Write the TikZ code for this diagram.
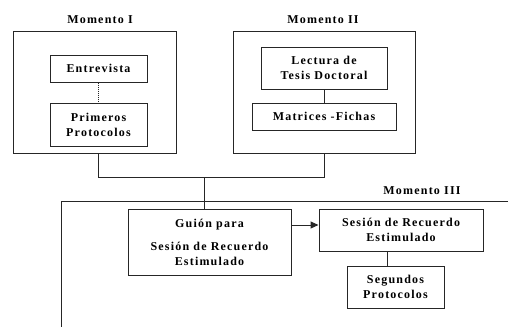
\documentclass[tikz,border=0pt]{standalone}
\usepackage{fontspec}
\setmainfont{Liberation Serif}
\newfontfamily\boxfont[LetterSpace=10]{Liberation Serif}
\usetikzlibrary{arrows.meta, positioning}
\tikzstyle{block} = [draw=black!85, line width=1pt, rectangle, align=center, font=\boxfont\fontsize{12}{15}\selectfont\bfseries, inner sep=0pt]
\tikzstyle{frame} = [draw=black!85, line width=1pt, rectangle, inner sep=0pt]
\tikzstyle{title} = [font=\boxfont\fontsize{12}{15}\selectfont\bfseries, inner sep=0pt]
\tikzstyle{link} = [draw=black!85, line width=1pt]
\tikzstyle{path} = [link, -{Triangle[length=8pt, width=7pt]}]

\begin{document}
\begin{tikzpicture}[x=1pt, y=-1pt]
    \useasboundingbox (0,0) rectangle (509,327);

    % Moments.
    \node (mom1) [frame, minimum width=163pt, minimum height=122pt] at (94.5,92) {};
    \node (mom2) [frame, minimum width=182pt, minimum height=122pt] at (324,92) {};
    \node (title1) [title] at (100,20) {Momento I};
    \node (title2) [title] at (323,20) {Momento II};
    \node (title3) [title] at (422,191) {Momento III};

    % Boxes.
    \node (entrevista) [block, minimum width=97pt, minimum height=27pt] at (98.5,68.5) {Entrevista};
    \node (primeros) [block, minimum width=97pt, minimum height=43pt] at (98.5,124.5) {Primeros\\Protocolos};
    \node (lectura) [block, minimum width=126pt, minimum height=42pt] at (324,68) {Lectura de\\Tesis Doctoral};
    \node (matrices) [block, minimum width=144pt, minimum height=27pt] at (324,116.5) {Matrices -Fichas};
    \node (guion) [block, minimum width=163pt, minimum height=66pt] at (209.5,242) {Guión para\\[8pt]Sesión de Recuerdo\\Estimulado};
    \node (sesion) [block, minimum width=164pt, minimum height=42pt] at (401,230) {Sesión de Recuerdo\\Estimulado};
    \node (segundos) [block, minimum width=97pt, minimum height=42pt] at (395.5,287) {Segundos\\Protocolos};

    % Frame of the third moment.
    \coordinate (corner3) at (61,201);
    \coordinate (right3) at (508,201);
    \coordinate (bottom3) at (61,327);
    \draw [link] (right3) -- (corner3) -- (bottom3);

    % Arrows.
    \coordinate (join) at (204,177);
    \draw [link, densely dotted] (entrevista) -- (primeros);
    \draw [link] (lectura) -- (matrices);
    \draw [link] (entrevista |- mom1.south) -- (entrevista |- join) -| (mom2.south);
    \draw [link] (join) -- (join |- guion.north);
    \draw [path] (guion.east |- 0,225) -- (sesion.west |- 0,225);
    \draw [link] (sesion.south -| 387,0) -- (segundos.north -| 387,0);
\end{tikzpicture}
\end{document}
